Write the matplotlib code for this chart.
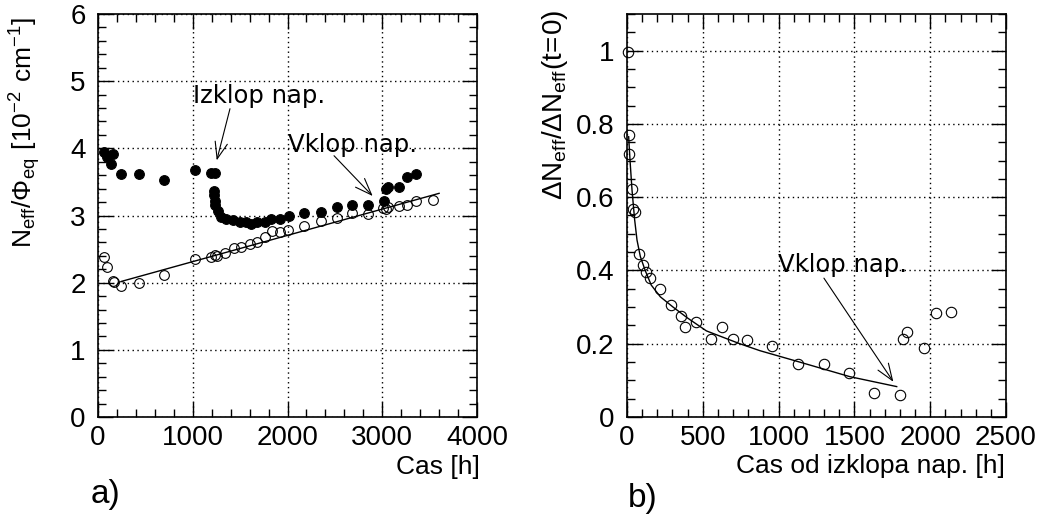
import matplotlib
matplotlib.use("Agg")
import matplotlib.pyplot as plt
from matplotlib.ticker import MultipleLocator

plt.rcParams['font.family'] = ['Liberation Sans', 'DejaVu Sans']
plt.rcParams['mathtext.fontset'] = 'custom'
plt.rcParams['mathtext.rm'] = 'Liberation Sans'

# ---- panel a) data ----
filled_x = [63, 95, 141, 158, 239, 429, 697, 1027, 1196, 1231, 1224, 1228, 1231, 1240, 1262,
            1302, 1354, 1425, 1495, 1565, 1611, 1678, 1759, 1829, 1917, 2012, 2178, 2350,
            2519, 2684, 2846, 3019, 3040, 3064, 3180, 3258, 3356]
filled_y = [3.94, 3.87, 3.77, 3.92, 3.62, 3.62, 3.53, 3.67, 3.64, 3.64, 3.36, 3.30, 3.22, 3.15, 3.06,
            2.98, 2.95, 2.93, 2.91, 2.90, 2.87, 2.91, 2.90, 2.95, 2.95, 2.99, 3.04, 3.05,
            3.12, 3.16, 3.15, 3.21, 3.39, 3.43, 3.43, 3.58, 3.62]
open_x = [63, 99, 158, 169, 246, 429, 697, 1027, 1196, 1231, 1259, 1344, 1432, 1506, 1601, 1678,
          1759, 1840, 1917, 2009, 2174, 2350, 2519, 2684, 2846, 3012, 3040, 3064, 3180, 3258,
          3356, 3539]
open_y = [2.38, 2.23, 2.02, 2.01, 1.95, 1.99, 2.11, 2.35, 2.38, 2.41, 2.40, 2.44, 2.51, 2.53, 2.58,
          2.61, 2.68, 2.77, 2.75, 2.79, 2.84, 2.92, 2.96, 3.03, 3.02, 3.11, 3.09, 3.12, 3.14, 3.16,
          3.21, 3.23]
fit_a_x = [250, 3600]
fit_a_y = [2.02, 3.33]

# ---- panel b) data ----
rel_x = [7, 11, 13, 33, 40, 55, 77, 106, 128, 150, 220, 289, 359, 385, 454, 553, 628, 700, 793,
         954, 1130, 1300, 1464, 1632, 1801, 1823, 1845, 1961, 2036, 2135]
rel_y = [0.997, 0.77, 0.718, 0.622, 0.567, 0.559, 0.445, 0.414, 0.397, 0.379, 0.35, 0.306, 0.277,
         0.247, 0.259, 0.214, 0.245, 0.214, 0.211, 0.194, 0.145, 0.146, 0.119, 0.066, 0.060,
         0.212, 0.233, 0.188, 0.283, 0.286]
fit_b_x = [11, 20, 33, 50, 66, 88, 120, 160, 220, 304, 400, 524, 744, 877, 1130, 1471, 1779]
fit_b_y = [0.765, 0.70, 0.62, 0.54, 0.483, 0.438, 0.40, 0.36, 0.328, 0.30, 0.27, 0.235, 0.20,
           0.181, 0.151, 0.110, 0.083]

W, H = 1041, 516
fig = plt.figure(figsize=(W / 100, H / 100), dpi=100)
axA = fig.add_axes([98 / W, 1 - 417 / H, 379 / W, 403 / H])
axB = fig.add_axes([627 / W, 1 - 417 / H, 379 / W, 403 / H])

tick_fs = 20
for ax in (axA, axB):
    for s in ax.spines.values():
        s.set_linewidth(1.2)
    ax.tick_params(which='both', direction='in', top=True, right=True, width=1.0,
                   labelsize=tick_fs)
    ax.tick_params(which='major', length=11)
    ax.tick_params(which='minor', length=6)
    ax.tick_params(axis='y', which='major', pad=9)
    ax.tick_params(axis='x', which='major', pad=6)
    ax.grid(True, which='major', linestyle=(0, (1, 2.5)), color='k', linewidth=1.0)
    ax.set_axisbelow(True)

# panel a
axA.set_xlim(0, 4000)
axA.set_ylim(0, 6)
axA.xaxis.set_major_locator(MultipleLocator(1000))
axA.xaxis.set_minor_locator(MultipleLocator(200))
axA.yaxis.set_major_locator(MultipleLocator(1))
axA.yaxis.set_minor_locator(MultipleLocator(0.2))
axA.plot(fit_a_x, fit_a_y, color='k', lw=1.0)
axA.plot(filled_x, filled_y, 'o', ms=7, mfc='k', mec='k', mew=0.8, ls='none')
axA.plot(open_x, open_y, 'o', ms=7, mfc='none', mec='k', mew=0.8, ls='none')

ann_fs = 17.5
arrow_kw = dict(arrowstyle='->,head_length=0.8,head_width=0.3', lw=0.8, color='k',
                shrinkA=0, shrinkB=0, mutation_scale=15)
axA.text(1003, 4.68, 'Izklop nap.', fontsize=ann_fs, family='DejaVu Sans', va='baseline', ha='left')
axA.annotate('', xy=(1253, 3.82), xytext=(1393, 4.59), arrowprops=arrow_kw)
axA.text(2005, 3.95, 'Vklop nap.', fontsize=ann_fs, family='DejaVu Sans', va='baseline', ha='left')
axA.annotate('', xy=(2899, 3.29), xytext=(2491, 3.89), arrowprops=arrow_kw)

# panel b
axB.set_xlim(0, 2500)
axB.set_ylim(0, 1.1)
axB.xaxis.set_major_locator(MultipleLocator(500))
axB.xaxis.set_minor_locator(MultipleLocator(100))
axB.yaxis.set_major_locator(MultipleLocator(0.2))
axB.yaxis.set_minor_locator(MultipleLocator(0.05))
axB.yaxis.set_major_formatter(matplotlib.ticker.FuncFormatter(lambda v, p: ('%g' % round(v, 2))))
axB.plot(fit_b_x, fit_b_y, color='k', lw=1.0)
axB.plot(rel_x, rel_y, 'o', ms=7.5, mfc='none', mec='k', mew=0.8, ls='none', clip_on=False)
axB.text(996, 0.397, 'Vklop nap.', fontsize=ann_fs, family='DejaVu Sans', va='baseline', ha='left')
axB.annotate('', xy=(1757, 0.096), xytext=(1299, 0.379), arrowprops=arrow_kw)

# labels
fig.text(25 / W, 1 - 17 / H, r'$\mathregular{N_{eff}/\Phi_{eq}\ [10^{-2}\ cm^{-1}]}$',
         rotation=90, ha='center', va='top', fontsize=19)
fig.text(555 / W, 1 - 10 / H, r'$\mathregular{\Delta N_{eff}/\Delta N_{eff}(t\!=\!0)}$',
         rotation=90, ha='center', va='top', fontsize=20)
fig.text(480 / W, 1 - 467 / H, 'Cas [h]', ha='right', va='center', fontsize=19)
fig.text(1005 / W, 1 - 466 / H, 'Cas od izklopa nap. [h]', ha='right', va='center', fontsize=19)
fig.text(106 / W, 1 - 495 / H, 'a)', ha='center', va='center', fontsize=24)
fig.text(643 / W, 1 - 499 / H, 'b)', ha='center', va='center', fontsize=24)

fig.savefig('out.png', dpi=100)
